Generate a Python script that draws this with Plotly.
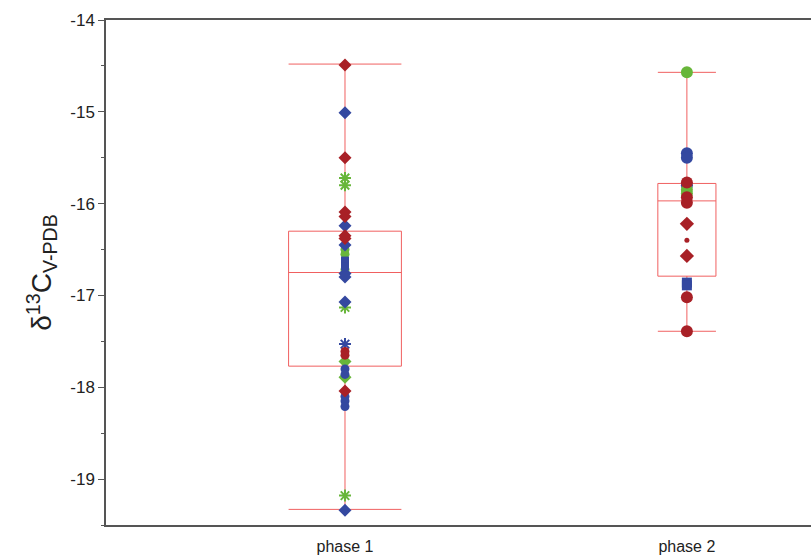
import plotly.graph_objects as go

# Categories and tick labels
phases = ["phase 1", "phase 2"]
y_ticks = [-14, -15, -16, -17, -18, -19]
y_tick_labels = ["-14", "-15", "-16", "-17", "-18", "-19"]

# Box statistics per phase (min/max whiskers)
box_lower = [-19.33, -17.39]
box_q1 = [-17.77, -16.79]
box_median = [-16.75, -15.97]
box_q3 = [-16.30, -15.78]
box_upper = [-14.48, -14.57]

# Individual δ13C measurements, phase 1
p1_red_diamond = [-14.49, -15.50, -16.09, -16.14, -16.35, -16.38, -18.04]
p1_red_circle = [-17.61, -17.65]
p1_blue_diamond = [-15.01, -16.24, -16.45, -16.76, -16.80, -17.07, -19.34]
p1_blue_square = [-16.62, -16.68]
p1_blue_circle = [-17.80, -17.86, -18.10, -18.15, -18.21]
p1_blue_star = [-17.53]
p1_green_star = [-15.72, -15.80, -17.13, -19.18]
p1_green_circle = [-16.50, -16.55, -16.72]
p1_green_diamond = [-17.72, -17.89]

# Individual δ13C measurements, phase 2
p2_green_circle = [-14.57, -15.85, -15.89]
p2_blue_circle = [-15.45, -15.50, -15.80]
p2_red_circle = [-15.77, -15.93, -15.99, -17.02, -17.39]
p2_red_diamond = [-16.22, -16.57]
p2_red_dot = [-16.40]
p2_blue_square = [-16.86, -16.89]

RED = "rgb(168,32,38)"
BLUE = "rgb(52,72,160)"
GREEN = "rgb(104,182,58)"
BOX = "rgb(240,96,96)"

fig = go.Figure()

box_widths = [0.33, 0.17]
for i in range(2):
    fig.add_trace(go.Box(
        x=[i], q1=[box_q1[i]], median=[box_median[i]], q3=[box_q3[i]],
        lowerfence=[box_lower[i]], upperfence=[box_upper[i]],
        width=box_widths[i], whiskerwidth=1,
        line=dict(color=BOX, width=1), fillcolor="rgba(0,0,0,0)",
        boxpoints=False, showlegend=False, hoverinfo="skip",
    ))

groups = [
    (0, p1_green_star, "asterisk-open", GREEN, 10),
    (0, p1_blue_star, "asterisk-open", BLUE, 10),
    (0, p1_green_circle, "circle", GREEN, 9),
    (0, p1_green_diamond, "diamond", GREEN, 10),
    (0, p1_blue_circle, "circle", BLUE, 9),
    (0, p1_blue_square, "square", BLUE, 8),
    (0, p1_blue_diamond, "diamond", BLUE, 10),
    (0, p1_red_circle, "circle", RED, 9),
    (0, p1_red_diamond, "diamond", RED, 10),
    (1, p2_blue_square, "square", BLUE, 10),
    (1, p2_red_diamond, "diamond", RED, 11),
    (1, p2_red_dot, "circle", RED, 5),
    (1, p2_blue_circle, "circle", BLUE, 12),
    (1, p2_green_circle, "circle", GREEN, 12),
    (1, p2_red_circle, "circle", RED, 12),
]
for xi, vals, sym, col, size in groups:
    fig.add_trace(go.Scatter(
        x=[xi] * len(vals), y=vals, mode="markers",
        marker=dict(symbol=sym, color=col, size=size,
                    line=dict(color=col, width=2 if "asterisk" in sym else 0)),
        showlegend=False, hoverinfo="skip",
    ))

fig.update_layout(
    width=811, height=558,
    margin=dict(l=106, r=0, t=20, b=33),
    paper_bgcolor="white", plot_bgcolor="white",
    font=dict(family="Liberation Sans, Arial, sans-serif", color="#222"),
    xaxis=dict(
        range=[-0.699, 1.363], tickvals=[0, 1], ticktext=phases,
        showline=True, linecolor="#555", linewidth=2, mirror=True,
        ticks="", showgrid=False, zeroline=False,
        tickfont=dict(size=16), ticklabelstandoff=6,
    ),
    yaxis=dict(
        range=[-19.5, -14], tickvals=y_ticks, ticktext=y_tick_labels,
        showline=True, linecolor="#555", linewidth=1.5,
        ticks="outside", ticklen=6, tickwidth=1.2, tickcolor="#555",
        minor=dict(ticks="outside", ticklen=3, tickwidth=1, tickcolor="#555", dtick=0.5),
        showgrid=False, zeroline=False,
        tickfont=dict(size=17),
        title=dict(text="δ<sup>13</sup>C<sub>V-PDB</sub>", font=dict(size=28), standoff=10),
    ),
)

fig.write_html("out.html")
